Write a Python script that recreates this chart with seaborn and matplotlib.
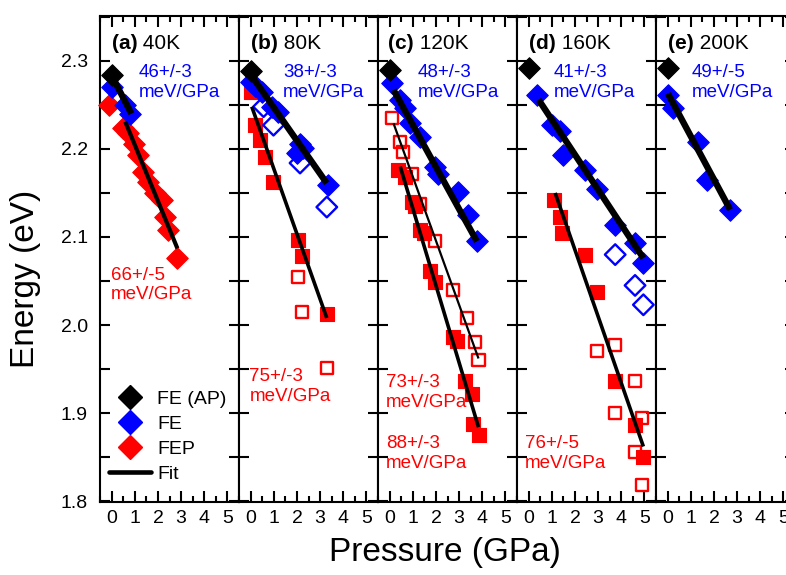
import numpy as np
import pandas as pd
import matplotlib
matplotlib.use("Agg")
import matplotlib.pyplot as plt
from matplotlib.lines import Line2D
from matplotlib.ticker import MultipleLocator, FormatStrFormatter
import seaborn as sns

sns.set_theme(style="white")
plt.rcParams['font.family'] = ['Liberation Sans', 'DejaVu Sans']
plt.rcParams['text.color'] = 'black'
plt.rcParams['axes.labelcolor'] = 'black'
plt.rcParams['xtick.color'] = 'black'
plt.rcParams['ytick.color'] = 'black'

# ---------------- data ----------------
panel_ids = ["a", "b", "c", "d", "e"]
panel_bold = ["(a)", "(b)", "(c)", "(d)", "(e)"]
panel_temp = ["40K", "80K", "120K", "160K", "200K"]

# FE at ambient pressure (one per panel)
AP_P = [0.0, 0.0, 0.0, 0.0, 0.0]
AP_E = [2.284, 2.288, 2.290, 2.292, 2.292]

# FE filled (blue diamonds)
FE_P = {
    "a": [0.0, 0.55, 0.8],
    "b": [0.0, 0.19, 0.48, 0.91, 1.19, 1.99, 2.13, 2.28, 3.36],
    "c": [0.09, 0.45, 0.66, 0.88, 1.31, 1.96, 2.10, 2.97, 3.40, 3.77],
    "d": [0.35, 1.0, 1.35, 1.50, 2.44, 2.94, 3.74, 4.60, 4.96],
    "e": [0.0, 0.24, 1.32, 1.69, 2.70],
}
FE_E = {
    "a": [2.270, 2.250, 2.240],
    "b": [2.276, 2.271, 2.265, 2.248, 2.242, 2.195, 2.206, 2.201, 2.159],
    "c": [2.275, 2.256, 2.246, 2.229, 2.214, 2.180, 2.172, 2.151, 2.125, 2.095],
    "d": [2.261, 2.227, 2.220, 2.193, 2.176, 2.155, 2.114, 2.093, 2.070],
    "e": [2.261, 2.246, 2.208, 2.165, 2.131],
}
# FE open (blue open diamonds)
FEo_P = {"b": [0.55, 0.98, 2.13, 3.29], "d": [3.74, 4.60, 4.96]}
FEo_E = {"b": [2.248, 2.227, 2.184, 2.134], "d": [2.080, 2.045, 2.023]}

# FEP panel a (red diamonds)
FEPa_P = [-0.12, 0.5, 0.72, 0.94, 1.15, 1.37, 1.58, 1.87, 2.16, 2.31, 2.45, 2.81]
FEPa_E = [2.250, 2.224, 2.218, 2.206, 2.193, 2.174, 2.163, 2.150, 2.142, 2.123, 2.108, 2.076]

# FEP filled squares (red)
FEP_P = {
    "b": [0.0, 0.19, 0.40, 0.62, 0.98, 2.06, 2.21, 3.29],
    "c": [0.35, 0.66, 0.95, 1.10, 1.31, 1.50, 1.74, 1.96, 2.72, 2.92, 3.26, 3.55, 3.62, 3.84],
    "d": [1.07, 1.35, 1.43, 2.44, 2.94, 3.74, 4.60, 4.96],
}
FEP_E = {
    "b": [2.265, 2.227, 2.210, 2.191, 2.163, 2.097, 2.078, 2.013],
    "c": [2.176, 2.168, 2.140, 2.135, 2.108, 2.104, 2.061, 2.049, 1.986, 1.982, 1.936, 1.922, 1.888, 1.875],
    "d": [2.142, 2.123, 2.104, 2.080, 2.038, 1.936, 1.886, 1.850],
}
# FEP open squares (red)
FEPo_P = {
    "b": [2.06, 2.21, 3.29],
    "c": [0.09, 0.45, 0.59, 0.95, 1.31, 1.96, 2.75, 3.33, 3.70, 3.84],
    "d": [2.94, 3.74, 4.60, 3.74, 4.89, 4.60, 4.89],
}
FEPo_E = {
    "b": [2.055, 2.015, 1.951],
    "c": [2.235, 2.208, 2.197, 2.172, 2.138, 2.095, 2.040, 2.008, 1.981, 1.960],
    "d": [1.970, 1.977, 1.936, 1.900, 1.894, 1.856, 1.818],
}

# fit lines: (panel, kind, [P0, P1], [E0, E1])
FIT_PANEL = ["a", "a", "b", "b", "c", "c", "c", "d", "d", "e"]
FIT_KIND = ["FE", "FEP", "FE", "FEP", "FE", "FEPo", "FEP", "FE", "FEP", "FE"]
FIT_P = [[0.0, 0.85], [0.58, 2.84], [-0.1, 3.29], [0.04, 3.29], [0.16, 3.77],
         [0.16, 3.84], [0.45, 3.84], [0.42, 4.96], [1.14, 4.96], [0.0, 2.70]]
FIT_E = [[2.283, 2.240], [2.231, 2.087], [2.288, 2.161], [2.248, 2.008], [2.267, 2.095],
         [2.229, 1.962], [2.180, 1.884], [2.256, 2.076], [2.150, 1.862], [2.263, 2.131]]

# slope annotations
FE_SLOPE = ["46+/-3", "38+/-3", "48+/-3", "41+/-3", "49+/-5"]
FE_SLOPE_P = [1.18, 1.39, 1.19, 1.07, 1.04]
FEP_SLOPE_TXT = ["66+/-5", "75+/-3", "73+/-3", "76+/-5", "88+/-3"]
FEP_SLOPE_PANEL = ["a", "b", "c", "d", "c"]
FEP_SLOPE_P = [-0.04, -0.06, -0.16, -0.16, -0.16]
FEP_SLOPE_E = [2.0455, 1.930, 1.9233, 1.854, 1.854]

XTICKS = [0, 1, 2, 3, 4, 5]
YTICKS = [1.8, 1.9, 2.0, 2.1, 2.2, 2.3]

# ---------------- figure ----------------
W, H = 786, 575
fig = plt.figure(figsize=(W / 100, H / 100), dpi=100)

BLUE = "#0000ff"
RED = "#ff0000"
FIT_LW = {"FE": 4.6, "FEP": 2.6, "FEPo": 1.6}
FIT_LW_PANEL = {("a", "FEP"): 3.0}

axes = []
for i, pid in enumerate(panel_ids):
    left_px = 100.3 + 139 * i
    ax = fig.add_axes([left_px / W, (H - 502) / H, 139 / W, 486 / H])
    axes.append(ax)
    ax.set_xlim(-0.5, 5.52)
    ax.set_ylim(1.799, 2.351)

    # FEP open squares
    if pid in FEPo_P:
        sns.scatterplot(x=FEPo_P[pid], y=FEPo_E[pid], ax=ax, marker="s", s=75,
                        facecolors="none", edgecolors=RED, linewidths=1.7, zorder=3,
                        clip_on=False)
    # FEP filled squares
    if pid in FEP_P:
        sns.scatterplot(x=FEP_P[pid], y=FEP_E[pid], ax=ax, marker="s", s=95,
                        color=RED, edgecolor=RED, linewidth=0.8, zorder=4, clip_on=False)
    if pid == "a":
        sns.scatterplot(x=FEPa_P, y=FEPa_E, ax=ax, marker="D", s=120,
                        color=RED, edgecolor=RED, linewidth=0.8, zorder=4, clip_on=False)
    # FE open diamonds
    if pid in FEo_P:
        sns.scatterplot(x=FEo_P[pid], y=FEo_E[pid], ax=ax, marker="D", s=110,
                        facecolors="none", edgecolors=BLUE, linewidths=1.7, zorder=5,
                        clip_on=False)
    # FE filled diamonds
    sns.scatterplot(x=FE_P[pid], y=FE_E[pid], ax=ax, marker="D", s=120,
                    color=BLUE, edgecolor=BLUE, linewidth=0.8, zorder=6, clip_on=False)
    # FE ambient
    sns.scatterplot(x=[AP_P[i]], y=[AP_E[i]], ax=ax, marker="D", s=120,
                    color="black", edgecolor="black", linewidth=0.8, zorder=7, clip_on=False)

    # fits
    for fp, fk, fx, fy in zip(FIT_PANEL, FIT_KIND, FIT_P, FIT_E):
        if fp != pid:
            continue
        lw = FIT_LW_PANEL.get((fp, fk), FIT_LW[fk])
        sns.lineplot(x=fx, y=fy, ax=ax, color="black", linewidth=lw, sort=False,
                     errorbar=None, zorder=8, solid_capstyle="butt")

    # panel label
    t1 = ax.text(0.0 if pid != "c" else -0.06, 2.320, panel_bold[i], fontsize=15,
                 fontweight="bold", ha="left", va="center", color="black")
    ax.annotate(" " + panel_temp[i], xy=(1, 0.5), xycoords=t1, fontsize=15,
                ha="left", va="center", color="black")

    # FE slope
    ax.text(FE_SLOPE_P[i], 2.2755, FE_SLOPE[i] + "\nmeV/GPa", fontsize=13.5,
            color=BLUE, ha="left", va="center", linespacing=1.2)

    # ticks
    ax.xaxis.set_major_locator(MultipleLocator(1))
    ax.xaxis.set_minor_locator(MultipleLocator(0.5))
    ax.yaxis.set_major_locator(MultipleLocator(0.1))
    ax.yaxis.set_minor_locator(MultipleLocator(0.05))
    ax.set_xticks(XTICKS)
    ax.set_xticklabels([str(t) for t in XTICKS])
    ax.tick_params(axis="x", which="major", direction="in", top=True, bottom=True,
                   length=8, width=1.5, labelsize=14, pad=6, color="black",
                   labelcolor="black")
    ax.tick_params(axis="x", which="minor", direction="in", top=True, bottom=True,
                   length=4.5, width=1.5, color="black")
    ax.tick_params(axis="y", which="both", direction="in", left=True, right=True,
                   length=7.5, width=1.5, color="black")
    if i == 0:
        ax.set_yticks(YTICKS)
        ax.yaxis.set_major_formatter(FormatStrFormatter("%.1f"))
        ax.tick_params(axis="y", which="major", labelsize=14, pad=9, labelcolor="black")
        ax.set_ylabel("Energy (eV)", fontsize=24, color="black")
        ax.yaxis.set_label_coords(-0.43, 0.459)
    else:
        ax.tick_params(axis="y", which="both", labelleft=False)
        ax.set_ylabel("")
    ax.set_xlabel("")
    for sp in ax.spines.values():
        sp.set_linewidth(1.5)
        sp.set_color("black")
        sp.set_visible(True)

# FEP slope annotations
for txt, pid, px, py in zip(FEP_SLOPE_TXT, FEP_SLOPE_PANEL, FEP_SLOPE_P, FEP_SLOPE_E):
    ax = axes[panel_ids.index(pid)]
    ax.text(px, py, txt + "\nmeV/GPa", fontsize=13.5, color=RED, ha="left",
            va="center", linespacing=1.2)

# legend in panel a
handles = [
    Line2D([], [], linestyle="none", marker="D", markersize=12.5, color="black"),
    Line2D([], [], linestyle="none", marker="D", markersize=12.5, color=BLUE),
    Line2D([], [], linestyle="none", marker="D", markersize=12.5, color=RED),
    Line2D([], [], color="black", linewidth=3.3),
]
labels = ["FE (AP)", "FE", "FEP", "Fit"]
axes[0].legend(handles, labels, loc="lower left", bbox_to_anchor=(0.06, 0.04),
               frameon=False, fontsize=14, handlelength=2.2, handletextpad=0.3,
               labelspacing=0.38, borderpad=0, borderaxespad=0, labelcolor="black")

fig.text(445 / W, 1 - 552 / H, "Pressure (GPa)", fontsize=24,
         ha="center", va="center", color="black")

fig.savefig("out.png", dpi=100)
